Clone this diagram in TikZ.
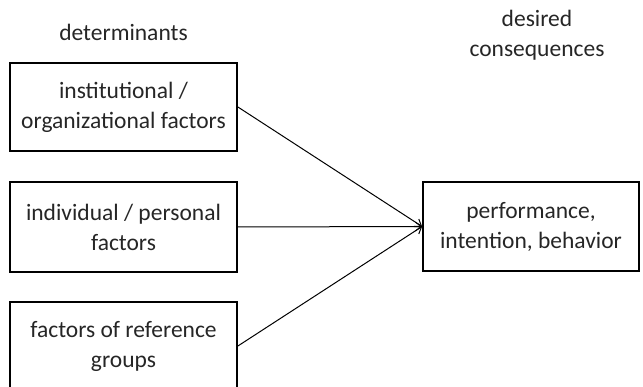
\documentclass[tikz,border=0pt]{standalone}
\usepackage{fontspec}
\setmainfont{Carlito}
\usetikzlibrary{arrows.meta}
\definecolor{inkgray}{HTML}{262626}
\begin{document}
\begin{tikzpicture}[x=1pt,y=1pt,
  every node/.style={text=inkgray,font=\fontsize{23.5}{30}\selectfont},
  factorbox/.style={draw=black,line width=1.8pt,minimum width=227pt,minimum height=88pt,align=center,inner sep=0pt},
  outcomebox/.style={draw=black,line width=1.8pt,minimum width=216pt,minimum height=89pt,align=center,inner sep=0pt},
  influence/.style={draw=black,line width=1pt,-{Straight Barb[length=6pt,width=9pt,line width=1pt]}}]
  \useasboundingbox (0,0) rectangle (643,-387);
  \clip (0,0) rectangle (643,-387);

  % column headings
  \node[anchor=base] (detlabel) at (123.5,-41) {determinants};
  \node[align=center] (conslabel) at (537,-35) {desired\\consequences};

  % determinants
  \node[factorbox] (inst) at (123.5,-107) {institutional /\\organizational factors};
  \node[factorbox, minimum height=90pt] (indiv) at (123.5,-227) {individual / personal\\factors};
  \node[factorbox] (refgrp) at (123.5,-346) {factors of reference\\groups};

  % outcome
  \node[outcomebox] (perf) at (531,-226.5) {performance,\\intention, behavior};

  % influences
  \draw[influence] (inst.east) -- (perf.west);
  \draw[influence] (indiv.east) -- (perf.west);
  \draw[influence] (refgrp.east) -- (perf.west);
\end{tikzpicture}
\end{document}
